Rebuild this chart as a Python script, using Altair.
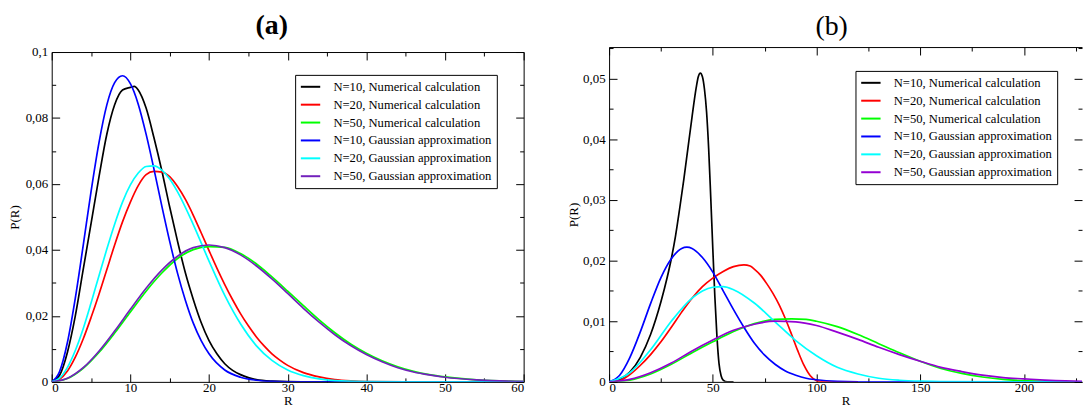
import altair as alt
import pandas as pd

FONT = "Liberation Serif"

labels = ["N=10, Numerical calculation", "N=20, Numerical calculation", "N=50, Numerical calculation",
          "N=10, Gaussian approximation", "N=20, Gaussian approximation", "N=50, Gaussian approximation"]
colors_a = ["#000000", "#ff0000", "#00ff00", "#0000ff", "#00ffff", "#7221bc"]
colors_b = ["#000000", "#ff0000", "#00ff00", "#0000ff", "#00ffff", "#9400d3"]

# ---------------- panel (a) ----------------
a_num10_R = [0, 1, 2, 3, 4, 5, 6, 7, 8, 9, 10, 10.5, 11, 12, 13, 14, 15, 16, 17, 18, 19, 20, 21, 22, 23, 24, 25, 26, 28, 30, 35, 60]
a_num10_P = [0, 0.002, 0.009, 0.020, 0.034, 0.048, 0.062, 0.075, 0.084, 0.0885, 0.0893, 0.0896, 0.0885, 0.083, 0.074,
             0.064, 0.053, 0.0426, 0.033, 0.025, 0.018, 0.0125, 0.0085, 0.0055, 0.0035, 0.0022, 0.0013, 0.0007,
             0.0002, 0.00005, 0, 0]

a_num20_R = [0, 1, 2, 3, 4, 5, 6, 7, 8, 9, 10, 11, 12, 13, 14, 15, 16, 17, 18, 19, 20, 21, 22, 23, 24, 25, 26, 27, 28,
             29, 30, 32, 34, 36, 38, 40, 45, 60]
a_num20_P = [0, 0.0008, 0.0033, 0.0075, 0.013, 0.0195, 0.0265, 0.034, 0.0415, 0.0485,
             0.0545, 0.0595, 0.0628, 0.0638, 0.0636, 0.0622, 0.0592, 0.0553, 0.0505, 0.0452,
             0.0398, 0.0345, 0.0295, 0.0249, 0.0207, 0.0170, 0.0137, 0.0109, 0.0085, 0.0066,
             0.0050, 0.0028, 0.0015, 0.0007, 0.0003, 0.0001, 0, 0]

a_num50_R = [0, 2, 4, 6, 8, 10, 12, 14, 16, 18, 20, 22, 24, 26, 28, 30, 32, 34, 36, 38, 40, 42, 44, 46, 48, 50, 54, 58, 60]
a_num50_P = [0, 0.0010, 0.0041, 0.0089, 0.0148, 0.0212, 0.0275, 0.0330, 0.0374, 0.0401, 0.0410, 0.0408, 0.0389,
             0.0358, 0.0318, 0.0275, 0.0231, 0.0188, 0.0149, 0.0115, 0.0087, 0.0064, 0.0046, 0.0032, 0.0022,
             0.0015, 0.0006, 0.0002, 0.00012]

a_gau10_R = [0, 1, 2, 3, 4, 5, 6, 7, 8, 9, 10, 11, 12, 13, 14, 15, 16, 17, 18, 19, 20, 22, 24, 26, 28, 30, 35, 60]
a_gau10_P = [0, 0.0031, 0.0120, 0.0254, 0.0413, 0.0577, 0.0724, 0.0839, 0.0907, 0.0928, 0.0904, 0.0842, 0.0751,
             0.0645, 0.0533, 0.0426, 0.0329, 0.0247, 0.0178, 0.0125, 0.0085, 0.0036, 0.0014, 0.0005, 0.00014,
             0.00004, 0, 0]

a_gau20_R = [0, 1, 2, 3, 4, 5, 6, 7, 8, 9, 10, 11, 12, 13, 14, 15, 16, 18, 20, 22, 24, 26, 28, 30, 32, 34, 36, 40, 45, 60]
a_gau20_P = [0, 0.0011, 0.0044, 0.0095, 0.0161, 0.0239, 0.0321, 0.0402, 0.0478, 0.0545, 0.0597, 0.0633, 0.0653,
             0.0655, 0.0642, 0.0615, 0.0576, 0.0477, 0.0366, 0.0262, 0.0176, 0.0110, 0.0065, 0.0036, 0.0019,
             0.0009, 0.0004, 0.0001, 0, 0]

a_gau50_R = [0, 2, 4, 6, 8, 10, 12, 14, 16, 18, 20, 22, 24, 26, 28, 30, 32, 34, 36, 38, 40, 42, 44, 46, 48, 50, 54, 58, 60]
a_gau50_P = [0, 0.0011, 0.0043, 0.0093, 0.0154, 0.0220, 0.0284, 0.0339, 0.0381, 0.0407, 0.0415, 0.0407, 0.0385,
             0.0352, 0.0312, 0.0268, 0.0223, 0.0181, 0.0143, 0.0110, 0.0083, 0.0061, 0.0043, 0.0030, 0.0021,
             0.0014, 0.0006, 0.0002, 0.00013]

# ---------------- panel (b) ----------------
b_num10_R = [0, 5, 10, 15, 20, 25, 28, 30, 32, 34, 36, 38, 40, 42, 43, 44, 45, 46, 47, 48, 49, 50, 51, 52, 53, 54, 55, 57, 60]
b_num10_P = [0, 0.0004, 0.0016, 0.0040, 0.0078, 0.0132, 0.0172, 0.0203, 0.0240, 0.0285, 0.0333, 0.0385, 0.0437,
             0.0485, 0.0503, 0.0509, 0.0503, 0.0482, 0.0445, 0.0385, 0.0305, 0.0220, 0.0140, 0.0075, 0.0030,
             0.0010, 0.0003, 0, 0]

b_num20_R = [0, 5, 10, 15, 20, 25, 30, 35, 40, 45, 50, 55, 60, 65, 68, 70, 73, 76, 79, 82, 85, 88, 91, 94, 97, 100, 103, 120]
b_num20_P = [0, 0.0002, 0.0012, 0.0027, 0.0045, 0.0066, 0.0090, 0.0115, 0.0138, 0.0157, 0.0171, 0.0182, 0.0190,
             0.0193, 0.0191, 0.0186, 0.0176, 0.0162, 0.0146, 0.0127, 0.0104, 0.0078, 0.0051, 0.0027, 0.0010,
             0.0002, 0, 0]

b_num50_R = [0, 10, 20, 30, 40, 50, 60, 70, 80, 88, 95, 100, 110, 120, 130, 140, 150, 160, 170, 180, 190, 200, 210, 220, 228]
b_num50_P = [0, 0.0003, 0.0013, 0.0029, 0.0048, 0.0066, 0.0083, 0.0096, 0.0103, 0.0104, 0.0103, 0.0100, 0.0091,
             0.0078, 0.0063, 0.0048, 0.0034, 0.0022, 0.0014, 0.0008, 0.0004, 0.0002, 0.0001, 0.00005, 0]

b_gau10_R = [0, 5, 10, 15, 20, 25, 30, 35, 37.5, 40, 45, 50, 55, 60, 65, 70, 75, 80, 85, 90, 95, 100, 110, 120, 228]
b_gau10_P = [0, 0.00105, 0.0040, 0.0082, 0.0129, 0.0172, 0.0203, 0.0220, 0.0222, 0.0220, 0.0205, 0.0181, 0.0150,
             0.0119, 0.0090, 0.0064, 0.0044, 0.0029, 0.0018, 0.0011, 0.0006, 0.00035, 0.00009, 0.00002, 0]

b_gau20_R = [0, 10, 20, 30, 40, 45, 50, 55, 60, 70, 80, 90, 100, 110, 120, 130, 140, 150, 160, 228]
b_gau20_P = [0, 0.0015, 0.0053, 0.0100, 0.0138, 0.0150, 0.0156, 0.0157, 0.0152, 0.0130, 0.0099, 0.0068, 0.0043,
             0.0024, 0.0013, 0.0006, 0.00027, 0.00011, 0.00004, 0]

b_gau50_R = [0, 10, 20, 30, 40, 50, 60, 70, 80, 90, 100, 110, 120, 130, 140, 150, 160, 170, 180, 190, 200, 210, 220, 228]
b_gau50_P = [0, 0.0004, 0.0015, 0.0031, 0.0051, 0.0069, 0.0085, 0.0095, 0.0100, 0.0099, 0.0093, 0.0082, 0.0070,
             0.0057, 0.0045, 0.0034, 0.0024, 0.0017, 0.0011, 0.0007, 0.0005, 0.0003, 0.00016, 0.0001]

# tick positions
a_x_major = [0, 10, 20, 30, 40, 50, 60]
a_x_all = [0, 5, 10, 15, 20, 25, 30, 35, 40, 45, 50, 55, 60]
a_y_major = [0, 0.02, 0.04, 0.06, 0.08, 0.1]
a_y_all = [0, 0.01, 0.02, 0.03, 0.04, 0.05, 0.06, 0.07, 0.08, 0.09, 0.1]
b_x_major = [0, 50, 100, 150, 200]
b_x_all = [0, 25, 50, 75, 100, 125, 150, 175, 200, 225]
b_y_major = [0, 0.01, 0.02, 0.03, 0.04, 0.05]
b_y_all = [0, 0.005, 0.01, 0.015, 0.02, 0.025, 0.03, 0.035, 0.04, 0.045, 0.05, 0.055]


def build(series):
    rows = []
    for name, (rs, ps) in zip(labels, series):
        for r, p in zip(rs, ps):
            rows.append({"R": r, "P": p, "series": name})
    return pd.DataFrame(rows)


df_a = build([(a_num10_R, a_num10_P), (a_num20_R, a_num20_P), (a_num50_R, a_num50_P),
              (a_gau10_R, a_gau10_P), (a_gau20_R, a_gau20_P), (a_gau50_R, a_gau50_P)])
df_b = build([(b_num10_R, b_num10_P), (b_num20_R, b_num20_P), (b_num50_R, b_num50_P),
              (b_gau10_R, b_gau10_P), (b_gau20_R, b_gau20_P), (b_gau50_R, b_gau50_P)])

LAB = "replace(format(datum.value, '~g'), '.', ',')"
H = 337


def panel(df, colors, xmax, ymax, W, top, x_all, x_major, y_all, y_major, xtest, ytest,
          title, weight, tdx, lx, ly, right_domain, ytp):
    xs = alt.Scale(domain=[0, xmax], nice=False, zero=False)
    ys = alt.Scale(domain=[0, ymax], nice=False, range=[H, top])
    xt = {"condition": {"test": xtest, "value": 8}, "value": 4}
    yt = {"condition": {"test": ytest, "value": 8}, "value": 4}
    base = alt.Chart(df)
    lines = base.mark_line(strokeWidth=1.7, interpolate="monotone", clip=True).encode(
        x=alt.X("R:Q", scale=xs, axis=alt.Axis(orient="bottom", values=x_major, ticks=False, labelExpr=LAB,
                                               title="R", labelPadding=0, titlePadding=0)),
        y=alt.Y("P:Q", scale=ys, axis=alt.Axis(orient="left", values=y_major, ticks=False, labelExpr=LAB,
                                               title="P(R)", labelPadding=4, titlePadding=ytp, minExtent=0)),
        color=alt.Color("series:N", sort=labels,
                        scale=alt.Scale(domain=labels, range=colors),
                        legend=alt.Legend(title=None, orient="none", legendX=lx, legendY=ly)),
    )
    ticks_in = base.mark_point(opacity=0, clip=True).encode(
        x=alt.X("R:Q", scale=xs, axis=alt.Axis(orient="top", offset=-H, values=x_all, labels=False,
                                               domain=False, tickSize=xt, title=None, minExtent=0)),
        y=alt.Y("P:Q", scale=ys, axis=alt.Axis(orient="right", offset=-W, values=y_all, labels=False,
                                               domain=False, tickSize=yt, title=None, minExtent=0)),
    )
    ticks_out = base.mark_point(opacity=0, clip=True).encode(
        x=alt.X("R:Q", scale=xs, axis=alt.Axis(orient="bottom", offset=-(H - top), values=x_all, labels=False,
                                               domain=True, tickSize=xt, title=None, minExtent=0)),
        y=alt.Y("P:Q", scale=ys, axis=alt.Axis(orient="left", offset=-W, values=y_all, labels=False,
                                               domain=right_domain, tickSize=yt, title=None, minExtent=0)),
    )
    return alt.layer(lines, ticks_in, ticks_out).resolve_axis(x="independent", y="independent").properties(
        width=W, height=H,
        title=alt.TitleParams(text=title, fontWeight=weight, offset=6, dx=tdx, anchor="middle"),
    )


pa = panel(df_a, colors_a, 60, 0.1, 475, 5, a_x_all, a_x_major, a_y_all, a_y_major,
           "datum.value % 10 === 0", "abs(datum.value * 50 - round(datum.value * 50)) < 0.001",
           "(a)", "bold", -16, 245, 28, True, 4)
pb = panel(df_b, colors_b, 228, 0.0552, 476, 0, b_x_all, b_x_major, b_y_all, b_y_major,
           "datum.value % 50 === 0", "abs(datum.value * 100 - round(datum.value * 100)) < 0.001",
           "(b)", "normal", -14, 248, 24, False, 2)

chart = alt.hconcat(pa, pb, spacing=43).resolve_scale(color="independent", x="independent", y="independent").properties(
    padding={"left": 0, "right": 0, "top": 3, "bottom": 0}
).configure_axis(
    labelFont=FONT, titleFont=FONT, labelFontSize=13, titleFontSize=13, titleFontWeight="normal",
    domainColor="black", tickColor="black", labelColor="black", titleColor="black",
    grid=False, domainWidth=1, tickWidth=1,
).configure_legend(
    labelFont=FONT, labelFontSize=12.7, labelColor="black", padding=4.5, rowPadding=3,
    symbolType="M-1.5,0H1.5", symbolSize=169, symbolStrokeWidth=2, symbolOffset=3.5,
    labelOffset=15.5, labelLimit=400,
    strokeColor="black", fillColor="white", cornerRadius=0,
).configure_view(strokeWidth=0).configure_title(font=FONT, fontSize=28, color="black")

chart.save("out.html", embed_options={"renderer": "svg", "actions": False})
